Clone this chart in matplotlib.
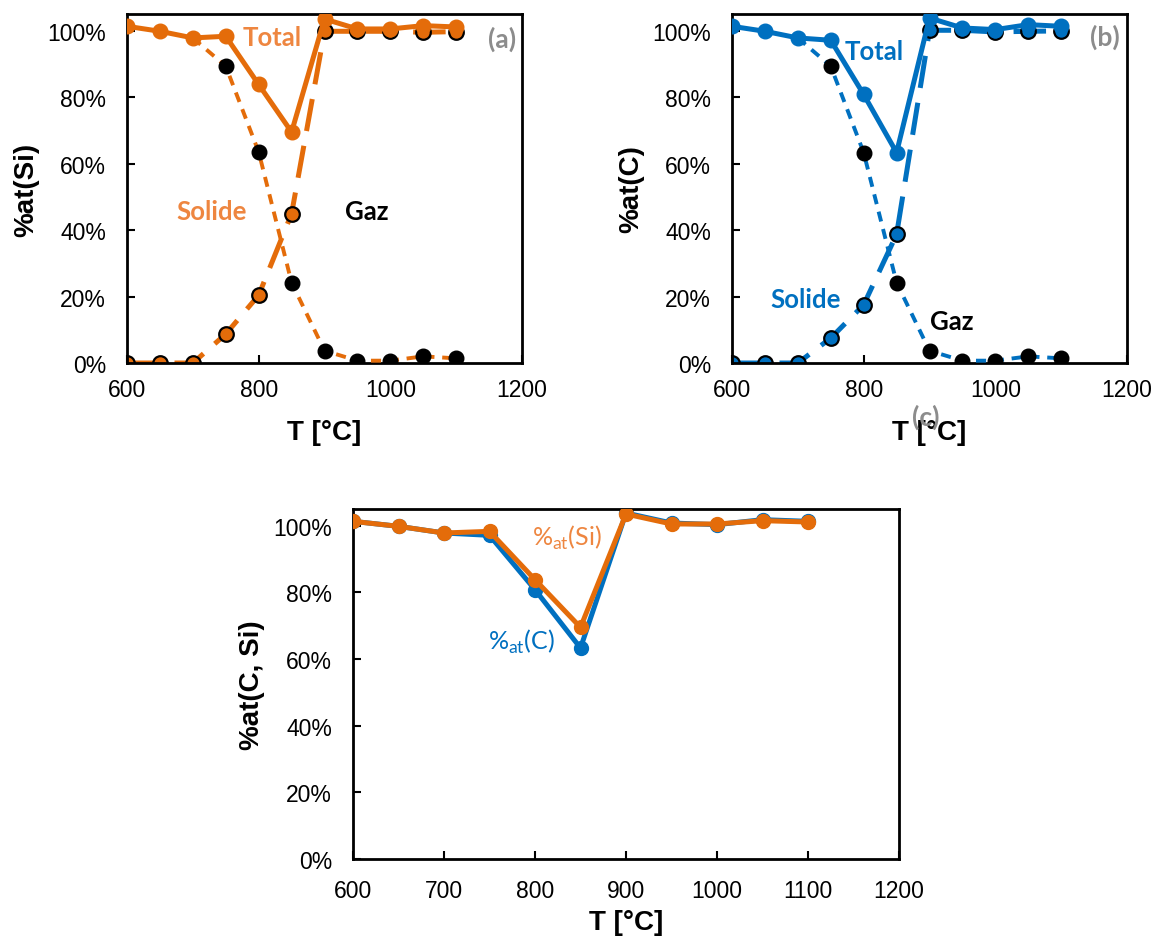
import matplotlib
matplotlib.use("Agg")
from matplotlib import pyplot as plt
from matplotlib.ticker import FuncFormatter

T = [600, 650, 700, 750, 800, 850, 900, 950, 1000, 1050, 1100]

# panel (a) : silicium
si_total = [101.3, 99.8, 97.8, 98.3, 83.8, 69.5, 103.5, 100.5, 100.5, 101.5, 101.1]
si_solide = [0.0, 0.0, 0.0, 8.7, 20.4, 44.9, 99.8, 99.8, 99.8, 99.5, 99.7]
si_gaz = [101.3, 99.8, 97.8, 89.3, 63.5, 24.2, 3.7, 0.7, 0.7, 2.0, 1.4]

# panel (b) : carbone
c_total = [101.3, 99.8, 97.8, 97.1, 80.8, 63.3, 103.8, 100.8, 100.3, 101.8, 101.3]
c_solide = [0.0, 0.0, 0.0, 7.5, 17.5, 38.7, 100.1, 100.1, 99.6, 99.8, 99.9]
c_gaz = [101.3, 99.8, 97.8, 89.3, 63.3, 24.2, 3.7, 0.7, 0.7, 2.0, 1.4]

ORANGE = "#E46C0A"
ORANGE_TXT = "#EE8640"
BLUE = "#0070C0"
GREY = "#8C8C8C"

W, H = 1155, 937
fig = plt.figure(figsize=(W / 100, H / 100), dpi=100)

pct = FuncFormatter(lambda v, p: "%d%%" % v)


def px_axes(x0, x1, y0, y1):
    return fig.add_axes([x0 / W, 1 - y1 / H, (x1 - x0) / W, (y1 - y0) / H])


def style(ax, ylab, xticks, xpad=11, xlabpad=13):
    ax.set_xlim(600, 1200)
    ax.set_ylim(0, 105)
    ax.set_xticks(xticks)
    ax.set_yticks([0, 20, 40, 60, 80, 100])
    ax.yaxis.set_major_formatter(pct)
    ax.tick_params(direction="in", length=6, width=1.5, labelsize=16.5,
                   colors="black")
    ax.tick_params(axis="x", pad=xpad)
    ax.tick_params(axis="y", pad=15)
    for s in ax.spines.values():
        s.set_linewidth(2)
        s.set_color("black")
    ax.set_xlabel("T [°C]", fontsize=20, fontweight="bold", labelpad=xlabpad)
    ax.set_ylabel(ylab, fontsize=20, fontweight="bold", labelpad=6)
    for lab in ax.get_xticklabels() + ax.get_yticklabels():
        lab.set_family("Liberation Sans")
    ax.xaxis.label.set_family("Liberation Sans")
    ax.yaxis.label.set_family("Liberation Sans")


def txt(x, y, s, color, size=18.5, weight="bold", family="Lato"):
    fig.text(x / W, 1 - y / H, s, color=color, fontsize=size,
             fontweight=weight, family=family, ha="center", va="center")


def panel(ax, total, solide, gaz, col):
    # gas line starts on the total point at 700 °C, markers from 750 °C
    ax.plot(T[2:], gaz[2:], ls=(0, (2.6, 2.0)), lw=2.8, color=col,
            marker="o", ms=10.5, mfc="black", mec="black",
            markevery=list(range(1, len(T) - 2)), zorder=3)
    ax.plot(T, solide, ls=(0, (6.5, 3.0)), lw=3.6, color=col,
            marker="o", ms=10.5, mfc=col, mec="black", mew=1.6, zorder=2)
    ax.plot(T, total, ls="-", lw=3.6, color=col,
            marker="o", ms=10.5, mfc=col, mec=col, zorder=4)


ax_a = px_axes(127, 522, 15, 364)
panel(ax_a, si_total, si_solide, si_gaz, ORANGE)
style(ax_a, "%at(Si)", [600, 800, 1000, 1200])

ax_b = px_axes(732, 1127, 15, 364)
panel(ax_b, c_total, c_solide, c_gaz, BLUE)
style(ax_b, "%at(C)", [600, 800, 1000, 1200])

ax_c = px_axes(353, 899, 510, 860)
ax_c.plot(T, c_total, "-o", lw=3.6, ms=10, color=BLUE, zorder=2)
ax_c.plot(T, si_total, "-o", lw=3.6, ms=10, color=ORANGE, zorder=3)
style(ax_c, "%at(C, Si)", list(range(600, 1201, 100)), xpad=14.5, xlabpad=5)

# annotations
txt(272, 38, "Total", ORANGE_TXT)
txt(212, 212, "Solide", ORANGE_TXT)
txt(367, 212, "Gaz", "black")
txt(502, 39, "(a)", GREY, size=19)

txt(874, 52, "Total", BLUE)
txt(806, 300, "Solide", BLUE)
txt(952, 322, "Gaz", "black")
txt(1105, 37, "(b)", GREY, size=19)
txt(926, 417, "(c)", GREY, size=19)

txt(567, 538, "%$_{\\mathregular{at}}$(Si)", ORANGE_TXT, size=18, weight="normal")
txt(521, 642, "%$_{\\mathregular{at}}$(C)", BLUE, size=18, weight="normal")

fig.savefig("out.png", dpi=100)
